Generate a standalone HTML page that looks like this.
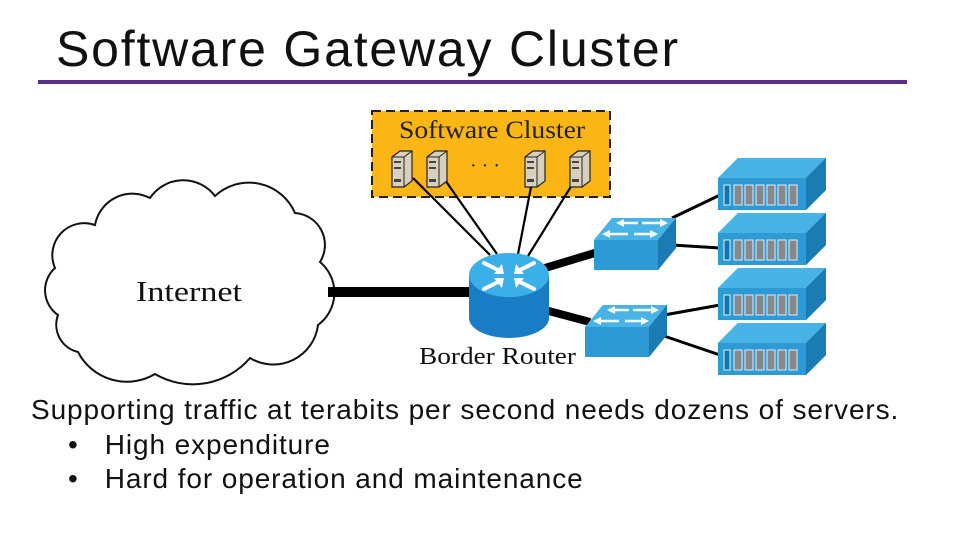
<!DOCTYPE html>
<html><head><meta charset="utf-8"><style>
body{margin:0;width:960px;height:540px;background:#fff;overflow:hidden;position:relative;font-family:"Liberation Sans",sans-serif}
.t{position:absolute;white-space:nowrap;color:#111}
.b{font-size:28px;letter-spacing:0.9px}
</style></head><body>
<div class="t" style="left:56px;top:20px;font-size:50px;letter-spacing:1.8px;">Software Gateway Cluster</div>
<div style="position:absolute;left:38px;top:80px;width:869px;height:4px;background:#5a2d8c"></div>
<svg width="960" height="540" style="position:absolute;left:0;top:0">
<defs>
<g id="srv"><path d="M0,6 L8,0 L20,0 L20,30 L12,36 L0,36Z" fill="#d8cfbd" stroke="#222" stroke-width="1.2"/><path d="M12,6 L20,0 M12,6 L12,36 M0,6 L12,6" stroke="#222" fill="none"/><rect x="2" y="10" width="7" height="2" fill="#444"/><rect x="2" y="16" width="7" height="2" fill="#444"/><rect x="2" y="28" width="7" height="3" fill="#444"/></g>
<g id="rack"><path d="M0,20 L20,0 L108,0 L108,32 L88,52 L0,52Z" fill="#2d9ad4"/><path d="M0,20 L20,0 L108,0 L88,20Z" fill="#48b3e6"/><path d="M88,20 L108,0 L108,32 L88,52Z" fill="#1a7cb2"/><rect x="6" y="27" width="6" height="20" fill="#1a6fb0" stroke="#cfe" stroke-width="1"/><g fill="#888" stroke="#def" stroke-width="1"><rect x="16" y="27" width="8" height="20"/><rect x="27" y="27" width="8" height="20"/><rect x="38" y="27" width="8" height="20"/><rect x="49" y="27" width="8" height="20"/><rect x="60" y="27" width="8" height="20"/><rect x="71" y="27" width="8" height="20"/></g></g>
<g id="sw"><path d="M0,22 L18,0 L82,0 L82,30 L64,52 L0,52Z" fill="#2d9ad4"/><path d="M0,22 L18,0 L82,0 L64,22Z" fill="#48b3e6"/><path d="M64,22 L82,0 L82,30 L64,52Z" fill="#1a7cb2"/><g stroke="#fff" stroke-width="2.5"><line x1="28" y1="5" x2="44" y2="5"/><line x1="48" y1="5" x2="68" y2="5"/><line x1="14" y1="16" x2="34" y2="16"/><line x1="40" y1="16" x2="58" y2="16"/></g><path d="M22,5 L30,1 L30,9Z M74,5 L66,1 L66,9Z M8,16 L16,12 L16,20Z M64,16 L56,12 L56,20Z" fill="#fff"/></g>
</defs>
<path d="M55,268 A32,32 0 0 1 95,225 A38,38 0 0 1 150,198 A40,40 0 0 1 215,196 A50,50 0 0 1 295,213 A32,32 0 0 1 320,262 A40,40 0 0 1 318,325 A45,45 0 0 1 250,358 A75,75 0 0 1 155,374 A55,55 0 0 1 78,352 A28,28 0 0 1 58,315 A30,30 0 0 1 55,268Z" fill="#fff" stroke="#111" stroke-width="2"/>
<text x="136" y="301" font-family="Liberation Serif,serif" font-size="29" textLength="106" lengthAdjust="spacingAndGlyphs" fill="#111">Internet</text>
<line x1="328" y1="292" x2="472" y2="292" stroke="#000" stroke-width="10"/>
<rect x="372" y="111" width="238" height="86" fill="#fbb515" stroke="#222" stroke-width="2" stroke-dasharray="9,5"/>
<text x="399" y="138" font-family="Liberation Serif,serif" font-size="25" textLength="186" lengthAdjust="spacingAndGlyphs" fill="#222">Software Cluster</text>
<text x="470" y="172" font-family="Liberation Serif,serif" font-size="20" fill="#222">· · ·</text>
<g stroke="#000" stroke-width="2.2"><line x1="413" y1="178" x2="490" y2="255"/><line x1="445" y1="180" x2="497" y2="254"/><line x1="532" y1="182" x2="518" y2="254"/><line x1="575" y1="180" x2="528" y2="256"/></g>
<use href="#srv" x="392" y="151"/><use href="#srv" x="427" y="151"/><use href="#srv" x="525" y="151"/><use href="#srv" x="570" y="151"/>
<g stroke="#000" stroke-width="8"><line x1="545" y1="268" x2="598" y2="252"/><line x1="545" y1="310" x2="590" y2="322"/></g>
<g stroke="#000" stroke-width="3"><line x1="672" y1="218" x2="720" y2="195"/><line x1="672" y1="245" x2="720" y2="248"/><line x1="664" y1="315" x2="720" y2="305"/><line x1="664" y1="336" x2="720" y2="355"/></g>
<path d="M469,275 L469,318 A40,20 0 0 0 549,318 L549,275Z" fill="#1a7cc4"/>
<ellipse cx="509" cy="275" rx="40" ry="22" fill="#3bb0e8"/>
<g stroke="#fff" stroke-width="4" stroke-linecap="round"><line x1="484" y1="263" x2="500" y2="271"/><line x1="534" y1="263" x2="518" y2="271"/><line x1="484" y1="289" x2="500" y2="281"/><line x1="534" y1="289" x2="518" y2="281"/></g>
<g fill="#fff"><path d="M504,274 L494,274 L502,264Z"/><path d="M514,274 L524,274 L516,264Z"/><path d="M504,278 L494,278 L502,288Z"/><path d="M514,278 L524,278 L516,288Z"/></g>
<text x="419" y="364" font-family="Liberation Serif,serif" font-size="24" textLength="157" lengthAdjust="spacingAndGlyphs" fill="#111">Border Router</text>
<use href="#sw" x="594" y="218"/><use href="#sw" x="585" y="305"/>
<use href="#rack" x="718" y="158"/><use href="#rack" x="718" y="213"/><use href="#rack" x="718" y="268"/><use href="#rack" x="718" y="323"/>
</svg>
<div class="t b" style="left:31px;top:394px;">Supporting traffic at terabits per second needs dozens of servers.</div>
<div class="t b" style="left:68px;top:429px;">•&nbsp;&nbsp; High expenditure</div>
<div class="t b" style="left:68px;top:463px;">•&nbsp;&nbsp; Hard for operation and maintenance</div>
</body></html>
